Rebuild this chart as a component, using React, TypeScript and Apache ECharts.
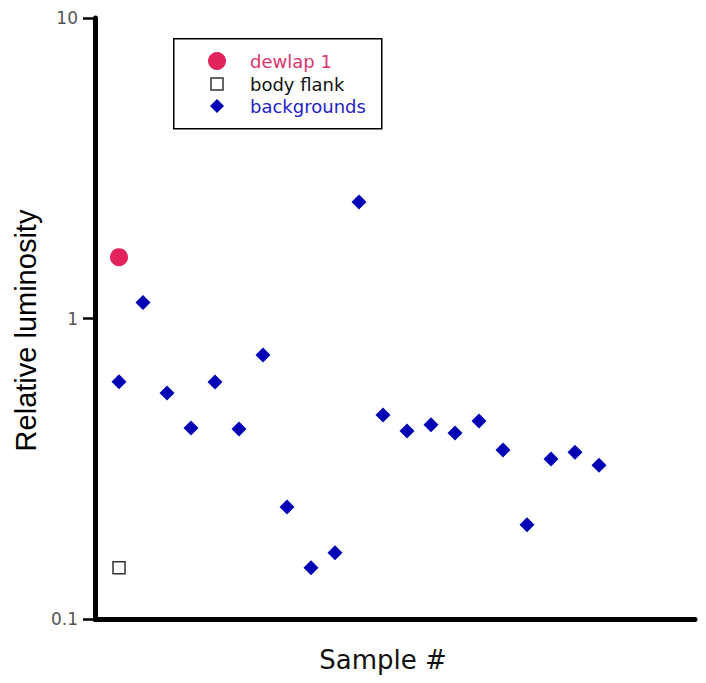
import React, { useEffect, useRef } from "react";
import * as echarts from "echarts";

const seriesNames = ["dewlap 1", "body flank", "backgrounds"];
const dewlapX = [1];
const dewlapY = [1.6];
const flankX = [1];
const flankY = [0.148];
const backgroundX = [1, 2, 3, 4, 5, 6, 7, 8, 9, 10, 11, 12, 13, 14, 15, 16, 17, 18, 19, 20, 21];
const backgroundY = [
  0.616, 1.13, 0.565, 0.432, 0.615, 0.429, 0.756, 0.236, 0.148, 0.166, 2.44,
  0.477, 0.422, 0.443, 0.416, 0.456, 0.365, 0.206, 0.341, 0.359, 0.325,
];
const yTicks = [0.1, 1, 10];

const FONT = "DejaVu Sans";
const pair = (xs: number[], ys: number[]) => xs.map((x, i) => [x, ys[i]]);

export default function App() {
  const ref = useRef<HTMLDivElement>(null);
  useEffect(() => {
    const chart = echarts.init(ref.current!, null, { renderer: "svg" });
    const legendColors = ["#d9356e", "#111111", "#2323c4"];
    chart.setOption({
      animation: false,
      backgroundColor: "#ffffff",
      grid: { left: 95, top: 18, right: 11, bottom: 64 },
      xAxis: {
        type: "value",
        min: 0,
        max: 25,
        name: "Sample #",
        nameLocation: "middle",
        nameGap: 28,
        nameTextStyle: { fontFamily: FONT, fontSize: 26, color: "#111", padding: [0, 24, 0, 0] },
        axisLine: { show: true, onZero: false, lineStyle: { color: "#000", width: 5 } },
        axisTick: { show: false },
        axisLabel: { show: false },
        splitLine: { show: false },
      },
      yAxis: {
        type: "log",
        logBase: 10,
        min: 0.1,
        max: 10,
        name: "Relative luminosity",
        nameLocation: "middle",
        nameGap: 50,
        nameTextStyle: {
          fontFamily: "Liberation Sans",
          fontSize: 29,
          color: "#000",
          padding: [0, 24, 0, 0],
        },
        axisLine: { show: true, lineStyle: { color: "#000", width: 5 } },
        axisTick: { show: true, length: 12, lineStyle: { color: "#000", width: 2.5 } },
        axisLabel: {
          fontFamily: FONT,
          fontSize: 17,
          color: "#555",
          margin: 17,
          formatter: (v: number) => {
            const t = yTicks.find((k) => Math.abs(k - v) / k < 1e-6);
            return t === undefined ? "" : String(t);
          },
        },
        splitLine: { show: false },
        minorTick: { show: false },
      },
      series: [
        {
          name: seriesNames[0],
          type: "scatter",
          symbol: "circle",
          symbolSize: 18,
          itemStyle: { color: "#e2245c", opacity: 1 },
          data: pair(dewlapX, dewlapY),
          z: 3,
        },
        {
          name: seriesNames[1],
          type: "scatter",
          symbol: "rect",
          symbolSize: 12,
          itemStyle: { color: "#ffffff", borderColor: "#333", borderWidth: 1.5, opacity: 1 },
          data: pair(flankX, flankY),
        },
        {
          name: seriesNames[2],
          type: "scatter",
          symbol: "diamond",
          symbolSize: 15,
          itemStyle: { color: "#0000b4", opacity: 1 },
          data: pair(backgroundX, backgroundY),
        },
      ],
      graphic: [
        {
          type: "rect",
          left: 173,
          top: 38,
          shape: { width: 208, height: 90 },
          style: { fill: "#fff", stroke: "#000", lineWidth: 1.5 },
          z: 10,
        },
        {
          type: "circle",
          shape: { cx: 217, cy: 61, r: 9 },
          style: { fill: "#e2245c" },
          z: 11,
        },
        {
          type: "rect",
          shape: { x: 211, y: 78, width: 12, height: 12 },
          style: { fill: "#fff", stroke: "#333", lineWidth: 1.5 },
          z: 11,
        },
        {
          type: "polygon",
          shape: { points: [[217, 99], [224, 106], [217, 113], [210, 106]] },
          style: { fill: "#0000b4" },
          z: 11,
        },
        ...seriesNames.map((n, i) => ({
          type: "text",
          x: 250,
          y: [61, 84, 106][i],
          style: {
            text: n,
            fill: legendColors[i],
            font: `18px "${FONT}"`,
            textVerticalAlign: "middle",
          },
          z: 11,
        })),
      ],
    });
    return () => chart.dispose();
  }, []);
  return (
    <div
      ref={ref}
      style={{ position: "fixed", left: 0, top: 0, width: 706, height: 683 }}
    />
  );
}
